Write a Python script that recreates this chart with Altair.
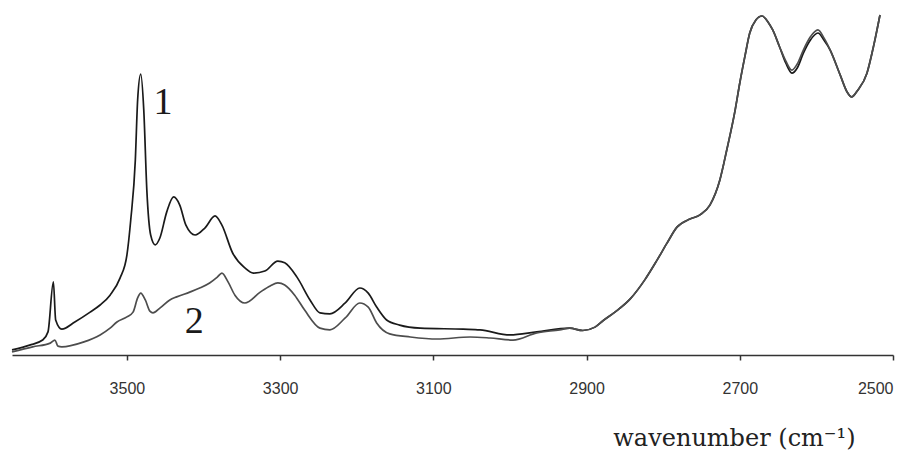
import altair as alt
import pandas as pd

# Spectrum 1 (upper curve): wavenumber (cm-1) and absorbance (arbitrary units)
wn1 = [3650, 3627, 3610, 3603, 3596, 3593, 3585, 3568, 3548, 3535,
       3522, 3509, 3500, 3495, 3489, 3486, 3482, 3478, 3474, 3469,
       3463, 3457, 3448, 3439, 3431, 3423, 3411, 3398, 3385, 3376,
       3362, 3346, 3335, 3320, 3303, 3294, 3278, 3261, 3248, 3235,
       3215, 3196, 3185, 3174, 3161, 3144, 3117, 3061, 3039, 3000,
       2965, 2922, 2905, 2889, 2879, 2863, 2843, 2824, 2808, 2795,
       2782, 2765, 2752, 2739, 2726, 2717, 2706, 2700, 2693, 2687,
       2679, 2671, 2663, 2657, 2648, 2640, 2632, 2625, 2617, 2608,
       2598, 2590, 2582, 2569, 2560, 2554, 2546, 2534, 2525, 2517]
abs1 = [1.5, 2.9, 4.4, 6.8, 21.5, 10.3, 7.6, 9.7, 12.6, 14.7,
        17.6, 22.6, 29.4, 39.7, 57.4, 75.0, 82.6, 72.1, 48.5, 35.3,
        32.4, 34.4, 42.1, 46.5, 44.1, 38.2, 35.3, 37.4, 40.9, 38.2,
        30.0, 25.6, 24.1, 24.7, 27.6, 27.1, 22.9, 16.2, 12.4, 12.1,
        15.3, 19.7, 18.2, 14.1, 10.3, 8.8, 7.9, 7.6, 7.4, 5.9,
        6.8, 7.9, 7.2, 8.2, 10.0, 12.6, 16.5, 22.1, 27.9, 32.9,
        37.6, 40.0, 41.2, 44.1, 51.5, 60.3, 72.1, 80.0, 88.2, 94.7,
        98.5, 99.7, 97.9, 95.6, 90.6, 85.9, 82.9, 84.4, 88.8, 92.6,
        94.7, 92.6, 89.7, 82.4, 77.4, 75.9, 77.9, 82.9, 91.2, 100.0]

# Spectrum 2 (lower curve)
wn2 = [3650, 3623, 3600, 3594, 3590, 3585, 3557, 3535, 3522, 3513,
       3500, 3492, 3486, 3482, 3476, 3470, 3466, 3457, 3444, 3435,
       3418, 3405, 3392, 3382, 3376, 3368, 3359, 3346, 3326, 3313,
       3303, 3294, 3281, 3268, 3248, 3235, 3215, 3196, 3185, 3174,
       3157, 3130, 3095, 3052, 3026, 2996, 2965, 2935,
       2922, 2905, 2889, 2879, 2863, 2843, 2824, 2808, 2795, 2782,
       2765, 2752, 2739, 2726, 2717, 2706, 2700, 2693, 2687, 2679,
       2671, 2663, 2657, 2648, 2640, 2632, 2625, 2617, 2608, 2598,
       2590, 2582, 2569, 2560, 2554, 2546, 2534, 2525, 2517]
abs2 = [0.9, 2.4, 3.5, 4.4, 2.6, 2.4, 3.8, 5.9, 7.9, 9.7,
        11.2, 12.6, 16.8, 18.2, 16.2, 12.9, 12.4, 13.8, 16.2, 17.1,
        18.5, 19.7, 21.2, 22.9, 24.1, 21.5, 17.6, 15.3, 18.5, 20.3,
        21.2, 20.6, 17.6, 13.2, 7.9, 7.4, 10.9, 15.3, 14.1, 9.4,
        6.2, 5.3, 4.7, 5.3, 5.0, 4.4, 6.5, 7.4,
        7.9, 7.2, 8.2, 10.0, 12.6, 16.5, 22.1, 27.9, 32.9, 37.6,
        40.0, 41.2, 44.1, 51.5, 60.3, 72.1, 80.0, 88.2, 94.7, 98.5,
        99.7, 97.9, 95.6, 90.6, 86.5, 83.8, 85.6, 89.7, 93.5, 95.6,
        93.2, 89.7, 82.4, 77.4, 75.9, 77.9, 82.9, 91.2, 100.0]

series_names = ["1", "2"]
label_wn = [3453, 3412]
label_abs = [74.1, 9.7]
tick_values = [3500, 3300, 3100, 2900, 2700, 2500]

df = pd.concat([
    pd.DataFrame({"wn": wn1, "a": abs1, "s": series_names[0]}),
    pd.DataFrame({"wn": wn2, "a": abs2, "s": series_names[1]}),
])
labels = pd.DataFrame({"wn": label_wn, "a": label_abs, "t": series_names})

x = alt.X("wn:Q",
          scale=alt.Scale(domain=[2500, 3650], reverse=True, nice=False, zero=False),
          axis=alt.Axis(values=tick_values, format="d", grid=False,
                        tickSize=5, tickColor="#333", tickWidth=1.5,
                        domainColor="#333", domainWidth=1.5,
                        labelFont="Liberation Sans Narrow, Liberation Sans",
                        labelFontSize=16, labelColor="#333", labelPadding=20,
                        title="wavenumber (cm\u207b\u00b9)",
                        titleFont="DejaVu Serif", titleFontSize=24,
                        titleFontWeight="normal", titleColor="#222",
                        titleX=843, titleY=83, titleAlign="right",
                        titleBaseline="middle"))
y = alt.Y("a:Q", scale=alt.Scale(domain=[0, 100], nice=False), axis=None)

lines = alt.Chart(df).mark_line(strokeWidth=1.7, interpolate="monotone").encode(
    x=x, y=y,
    color=alt.Color("s:N", scale=alt.Scale(domain=series_names, range=["#1a1a1a", "#4d4d4d"]),
                    legend=None),
    detail="s:N",
)

text = alt.Chart(labels).mark_text(font="Liberation Serif", fontSize=38,
                                   color="#1a1a1a", baseline="middle", align="center").encode(
    x="wn:Q", y="a:Q", text="t:N"
)

chart = alt.layer(lines, text).properties(
    width=881, height=340,
    padding={"left": 4, "top": 7, "right": 18, "bottom": 103},
    autosize=alt.AutoSizeParams(type="none"),
).configure_view(stroke=None)

chart.save("out.html", embed_options={"renderer": "svg", "actions": False})
